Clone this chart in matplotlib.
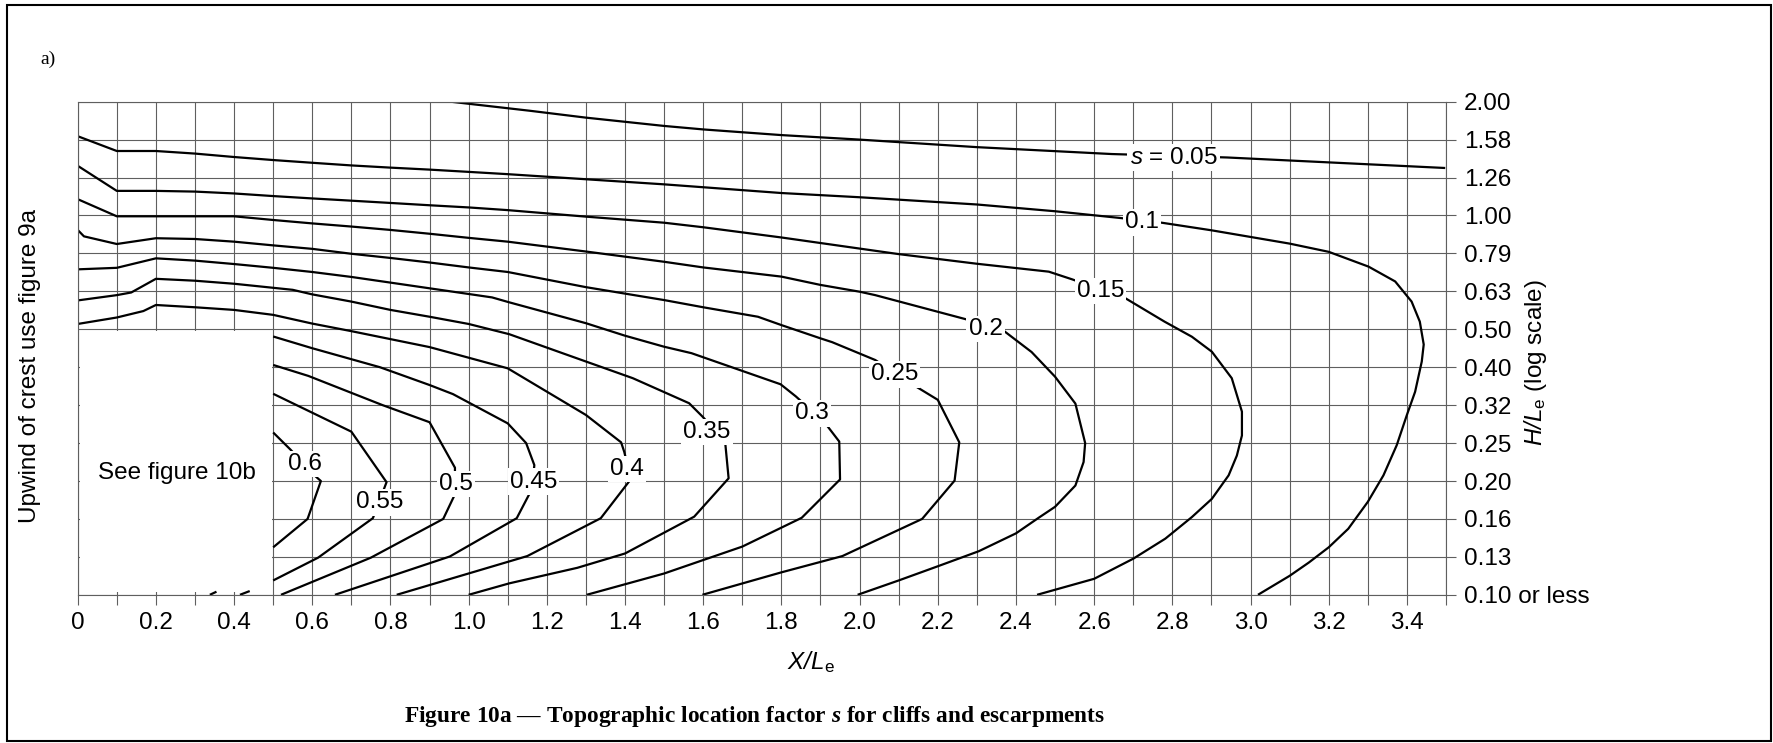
import matplotlib
matplotlib.use('Agg')
from matplotlib import pyplot as plt
from matplotlib.patches import Rectangle
from matplotlib.ticker import NullLocator

plt.rcParams['font.family'] = ['Liberation Sans', 'DejaVu Sans']
plt.rcParams['mathtext.fontset'] = 'custom'
plt.rcParams['mathtext.rm'] = 'Liberation Sans'
plt.rcParams['mathtext.sf'] = 'Liberation Sans:italic'
plt.rcParams['mathtext.it'] = 'Liberation Serif:italic:bold'

# contour lines of s: x = X/Le, y = H/Le
s005_x = [0.954, 1.157, 1.3, 1.5, 1.6, 1.8, 2.0, 2.3, 2.645, 2.94, 3.498]
s005_y = [1.995, 1.888, 1.811, 1.722, 1.686, 1.629, 1.585, 1.514, 1.452, 1.422, 1.334]

s010_x = [0, 0.1, 0.2, 0.3, 0.4, 0.5, 0.6, 0.7, 0.8, 0.9, 1.0, 1.1, 1.5, 1.8, 2.0, 2.3, 2.5,
          2.662, 2.773, 2.9, 3.1, 3.2, 3.302, 3.37, 3.412, 3.433, 3.443, 3.438, 3.421, 3.4,
          3.374, 3.34, 3.3, 3.25, 3.2, 3.149, 3.1, 3.019]
s010_y = [1.618, 1.479, 1.479, 1.456, 1.426, 1.400, 1.377, 1.355, 1.337, 1.321, 1.303, 1.285,
          1.208, 1.146, 1.117, 1.069, 1.026, 0.986, 0.957, 0.914, 0.843, 0.802, 0.733, 0.670,
          0.593, 0.525, 0.457, 0.412, 0.343, 0.298, 0.248, 0.2065, 0.1758, 0.1493, 0.1334,
          0.1216, 0.1122, 0.100]

s015_x = [0, 0.1, 0.2, 0.3, 0.4, 0.5, 0.6, 0.7, 0.8, 0.9, 1.0, 1.1, 1.3, 1.5, 1.6, 1.8, 2.0,
          2.1, 2.3, 2.484, 2.543, 2.68, 2.78, 2.85, 2.901, 2.952, 2.978, 2.978, 2.965, 2.944,
          2.901, 2.85, 2.782, 2.7, 2.6, 2.454]
s015_y = [1.352, 1.161, 1.161, 1.156, 1.143, 1.125, 1.109, 1.094, 1.079, 1.064, 1.050, 1.033,
          0.993, 0.957, 0.931, 0.875, 0.818, 0.791, 0.746, 0.711, 0.679, 0.605, 0.525, 0.479,
          0.4375, 0.3724, 0.304, 0.263, 0.2328, 0.2065, 0.179, 0.1603, 0.1406, 0.1245, 0.1102,
          0.100]

s020_x = [0, 0.1, 0.4, 0.5, 0.6, 0.7, 0.8, 0.9, 1.0, 1.1, 1.3, 1.5, 1.6, 1.8, 1.9, 2.0, 2.04,
          2.27, 2.37, 2.44, 2.5, 2.552, 2.577, 2.573, 2.552, 2.5, 2.458, 2.4, 2.305, 2.2, 2.1,
          1.995]
s020_y = [1.104, 0.995, 0.995, 0.973, 0.953, 0.935, 0.916, 0.895, 0.873, 0.853, 0.8035, 0.755,
          0.7295, 0.690, 0.656, 0.6296, 0.6166, 0.5333, 0.4955, 0.4365, 0.3758, 0.3192, 0.2512,
          0.2239, 0.1941, 0.1706, 0.1596, 0.1452, 0.1303, 0.1189, 0.1091, 0.100]

s025_x = [0, 0.016, 0.1, 0.2, 0.3, 0.4, 0.5, 0.6, 0.7, 0.8, 0.9, 1.0, 1.1, 1.3, 1.5, 1.6, 1.74,
          1.8, 1.9, 1.93, 2.04, 2.13, 2.2, 2.255, 2.243, 2.16, 1.956, 1.8, 1.598]
s025_y = [0.916, 0.881, 0.841, 0.871, 0.867, 0.853, 0.834, 0.8166, 0.7926, 0.7727, 0.7517,
          0.7295, 0.7096, 0.6472, 0.5984, 0.5728, 0.5408, 0.5141, 0.4743, 0.4634, 0.4159,
          0.3614, 0.3266, 0.2523, 0.2000, 0.1585, 0.1265, 0.1146, 0.100]

s030_x = [0, 0.1, 0.2, 0.3, 0.4, 0.5, 0.6, 0.7, 0.8, 0.9, 1.0, 1.06, 1.104, 1.3, 1.4, 1.5, 1.57,
          1.798, 1.837, 1.91, 1.948, 1.95, 1.852, 1.70, 1.50, 1.302]
s030_y = [0.7211, 0.7278, 0.7709, 0.7603, 0.7447, 0.7278, 0.7096, 0.6886, 0.6653, 0.6427,
          0.6209, 0.6081, 0.5902, 0.520, 0.482, 0.4508, 0.4335, 0.3589, 0.3334, 0.2851, 0.2535,
          0.2014, 0.1596, 0.134, 0.1138, 0.100]

s035_x = [0, 0.1, 0.137, 0.2, 0.3, 0.4, 0.55, 0.6, 0.7, 0.8, 0.9, 1.0, 1.104, 1.24, 1.42, 1.564,
          1.598, 1.656, 1.665, 1.577, 1.40, 1.278, 1.104, 1.0]
s035_y = [0.5971, 0.6166, 0.6266, 0.6808, 0.673, 0.6607, 0.6368, 0.6194, 0.5929, 0.5637, 0.5408,
          0.5176, 0.4864, 0.4335, 0.3724, 0.3199, 0.2951, 0.2535, 0.2028, 0.1607, 0.1285,
          0.1178, 0.1072, 0.100]

s040_x = [0, 0.1, 0.168, 0.2, 0.3, 0.4, 0.5, 0.6, 0.7, 0.9, 1.1, 1.3, 1.39, 1.398, 1.415, 1.338,
          1.15, 0.816]
s040_y = [0.5176, 0.5383, 0.5598, 0.5808, 0.5728, 0.5637, 0.547, 0.5188, 0.4955, 0.4498,
          0.3954, 0.2979, 0.2523, 0.2382, 0.2018, 0.1592, 0.1265, 0.100]

s045_x = [0.5, 0.6, 0.773, 0.9, 0.96, 1.1, 1.147, 1.168, 1.163, 1.123, 0.952, 0.658]
s045_y = [0.4797, 0.4467, 0.3981, 0.3573, 0.3381, 0.2831, 0.2512, 0.2198, 0.191, 0.1592,
          0.1262, 0.100]

s050_x = [0.5, 0.59, 0.78, 0.9, 0.965, 0.965, 0.935, 0.75, 0.52]
s050_y = [0.4036, 0.3776, 0.3162, 0.2851, 0.2163, 0.1841, 0.1585, 0.1253, 0.100]

s055_x = [0.5, 0.7, 0.79, 0.755, 0.615, 0.5]
s055_y = [0.3388, 0.2692, 0.1981, 0.1592, 0.1253, 0.1091]

s060_x = [0.5, 0.545, 0.6, 0.622, 0.588, 0.5]
s060_y = [0.2679, 0.241, 0.2089, 0.1995, 0.1585, 0.1334]

# two short bits at the foot of the blank area
stub1_x = [0.338, 0.355]
stub1_y = [0.100, 0.1019]
stub2_x = [0.415, 0.44]
stub2_y = [0.100, 0.1023]

# in-line labels
label_text = ['$\\mathsf{s}$ = 0.05', '0.1', '0.15', '0.2', '0.25', '0.3', '0.35', '0.4',
              '0.45', '0.5', '0.55', '0.6']
label_x = [2.803, 2.722, 2.616, 2.322, 2.089, 1.879, 1.61, 1.406, 1.166, 0.967, 0.773, 0.582]
label_y = [1.442, 0.973, 0.642, 0.5093, 0.387, 0.3054, 0.2723, 0.218, 0.2018, 0.1986, 0.1778,
           0.2244]

xtick_vals = [i / 10 for i in range(36)]
xtick_labels = ['0', '', '0.2', '', '0.4', '', '0.6', '', '0.8', '', '1.0', '', '1.2', '',
                '1.4', '', '1.6', '', '1.8', '', '2.0', '', '2.2', '', '2.4', '', '2.6', '',
                '2.8', '', '3.0', '', '3.2', '', '3.4', '']
ytick_vals = [0.1, 0.1259, 0.1585, 0.1995, 0.2512, 0.3162, 0.3981, 0.5012, 0.631, 0.7943,
              1.0, 1.259, 1.585, 1.995]
ytick_labels = ['0.10 or less', '0.13', '0.16', '0.20', '0.25', '0.32', '0.40', '0.50',
                '0.63', '0.79', '1.00', '1.26', '1.58', '2.00']

W, H = 1774, 743
gridc = '#5f5f5f'
fs = 17.5

fig = plt.figure(figsize=(W / 100, H / 100), dpi=100)
ax = fig.add_axes([77.7 / W, 1 - 594.8 / H, (1446 - 77.7) / W, (594.8 - 101.7) / H])

ax.set_yscale('log')
ax.set_xlim(0, 3.5)
ax.set_ylim(0.1, 1.995)
ax.set_xticks(xtick_vals)
ax.set_xticklabels(xtick_labels)
ax.set_yticks(ytick_vals)
ax.set_yticklabels(ytick_labels)
ax.yaxis.set_minor_locator(NullLocator())
ax.yaxis.tick_right()
ax.tick_params(axis='both', direction='out', length=7.5, width=0.8, color=gridc,
               labelsize=fs)
ax.tick_params(axis='x', pad=4.6)
ax.tick_params(axis='y', pad=5.5)
ax.grid(True, color=gridc, lw=0.8)
ax.set_axisbelow(True)
for sp in ax.spines.values():
    sp.set_color(gridc)
    sp.set_linewidth(0.8)

# blank area referred to figure 10b (no grid there)
ax.add_patch(Rectangle((0.006, 0.1015), 0.491, 0.495 - 0.1015, fc='white', ec='none',
                       zorder=1))

lines = [(s005_x, s005_y), (s010_x, s010_y), (s015_x, s015_y), (s020_x, s020_y),
         (s025_x, s025_y), (s030_x, s030_y), (s035_x, s035_y), (s040_x, s040_y),
         (s045_x, s045_y), (s050_x, s050_y), (s055_x, s055_y), (s060_x, s060_y),
         (stub1_x, stub1_y), (stub2_x, stub2_y)]
for lx, ly in lines:
    ax.plot(lx, ly, color='black', lw=1.6, solid_joinstyle='round', solid_capstyle='butt',
            zorder=2)

for t, x, y in zip(label_text, label_x, label_y):
    ax.text(x, y, t, ha='center', va='center_baseline', fontsize=fs, zorder=4,
            bbox=dict(fc='white', ec='none', pad=1.5))

ax.text(0.253, 0.2133, 'See figure 10b', ha='center', va='center_baseline', fontsize=fs)

fig.text(30 / W, 1 - 366 / H, 'Upwind of crest use figure 9a', rotation=90, ha='center',
         va='center', fontsize=fs)
fig.text(1536 / W, 1 - 363 / H, '$\\mathsf{H/L}_\\mathrm{e}$ (log scale)', rotation=90,
         ha='center', va='center', fontsize=fs)
fig.text(811 / W, 1 - 662 / H, '$\\mathsf{X/L}_\\mathrm{e}$', ha='center', va='center',
         fontsize=fs)
fig.text(40 / W, 1 - 64 / H, 'a)', ha='left', va='baseline', fontsize=14,
         family='Liberation Serif')

cap = fig.text(755 / W, 1 - 722 / H,
               'Figure 10a \u2014 Topographic location factor $s$ for cliffs and escarpments',
               ha='center', va='baseline', fontsize=20, family='Liberation Serif',
               fontweight='bold')
fig.canvas.draw()
cw = cap.get_window_extent().width
cap.set_fontsize(20 * 701 / cw)

fig.add_artist(Rectangle((7 / W, 2 / H), (1771 - 7) / W, (741 - 5) / H,
                         transform=fig.transFigure, fill=False, ec='black', lw=1.5))

fig.savefig('out.png', dpi=100)
